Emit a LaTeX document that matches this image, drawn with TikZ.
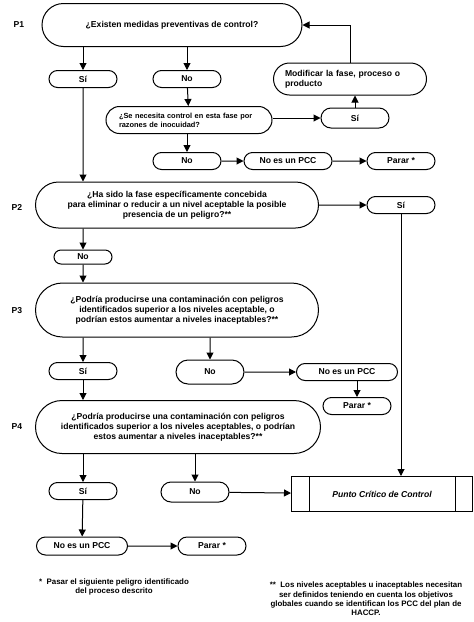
\documentclass[tikz,border=0pt]{standalone}
\usepackage{fontspec}
\setmainfont{Liberation Sans}
\usetikzlibrary{arrows.meta, shapes.misc, positioning}

\begin{document}
\begin{tikzpicture}[x=1pt,y=-1pt,>={Triangle[length=7pt,width=7pt]},line width=1pt,
        font=\fontsize{8.6}{10}\selectfont\bfseries,
        caja/.style={draw,rounded rectangle,minimum width=70,minimum height=17,inner sep=1pt},
        pregunta/.style={draw,rounded rectangle,inner sep=1pt,align=center},
        nota/.style={align=center,font=\fontsize{7.9}{9.4}\selectfont\bfseries}]
        \useasboundingbox (0,0) rectangle (474,622);

        \node (lp1) at (19,25) {P1};
        \node (lp2) at (17,207) {P2};
        \node (lp3) at (17,311) {P3};
        \node (lp4) at (17,427) {P4};

        \node[pregunta,minimum width=262,minimum height=43] (p1) at (172,25) {¿Existen medidas preventivas de control?};
        \node[caja] (si1) at (83,79) {Sí};
        \node[caja] (no1) at (187,79) {No};
        \node[pregunta,minimum width=155,minimum height=32,text width=130,align=left] (modif) at (350,79) {Modificar la fase, proceso o\\producto};
        \node[pregunta,minimum width=168,minimum height=27,text width=140,align=left,font=\fontsize{7.4}{8.8}\selectfont\bfseries] (necesita) at (189,120) {¿Se necesita control en esta fase por\\razones de inocuidad?};
        \node[caja,minimum height=20] (si2) at (355,118) {Sí};
        \node[caja] (no2) at (187,161) {No};
        \node[caja,minimum width=90] (nopcc1) at (288,161) {No es un PCC};
        \node[caja] (parar1) at (401,161) {Parar *};

        \node[pregunta,minimum width=285,minimum height=46] (p2) at (177,205) {¿Ha sido la fase específicamente concebida\\para eliminar o reducir a un nivel aceptable la posible\\presencia de un peligro?**};
        \node[caja] (si3) at (401,205) {Sí};
        \node[caja,minimum width=60,minimum height=14] (no3) at (83,257) {No};

        \node[pregunta,minimum width=285,minimum height=54] (p3) at (177,310) {¿Podría producirse una contaminación con peligros\\identificados superior a los niveles aceptable, o\\podrían estos aumentar a niveles inaceptables?**};
        \node[caja] (si4) at (83,371) {Sí};
        \node[caja,minimum height=24] (no4) at (210,372) {No};
        \node[caja,minimum width=103] (nopcc2) at (347,372) {No es un PCC};
        \node[caja] (parar2) at (357,406) {Parar *};

        \node[pregunta,minimum width=287,minimum height=53] (p4) at (178,427) {¿Podría producirse una contaminación con peligros\\identificados superior a los niveles aceptables, o podrían\\estos aumentar a niveles inaceptables?**};
        \node[caja] (si5) at (83,491) {Sí};
        \node[caja,minimum height=20] (no5) at (195,492) {No};
        \node[draw,rectangle,minimum width=181,minimum height=35,font=\fontsize{8.6}{10}\selectfont\bfseries\itshape] (pcc) at (382,494) {Punto Crítico de Control};
        \draw ([xshift=18]pcc.north west) -- ([xshift=18]pcc.south west)
              ([xshift=-18]pcc.north east) -- ([xshift=-18]pcc.south east);
        \node[caja,minimum width=93,minimum height=18] (nopcc3) at (82,546) {No es un PCC};
        \node[caja,minimum height=18] (parar3) at (212,546) {Parar *};

        \node[nota] (nota1) at (114,587) {* \ Pasar el siguiente peligro identificado\\del proceso descrito};
        \node[nota] (nota2) at (366,599) {** \ Los niveles aceptables u inaceptables necesitan\\ser definidos teniendo en cuenta los objetivos\\globales cuando se identifican los PCC del plan de\\HACCP.};

        \path[->] (p1.south -| si1) edge (si1)
                (p1.south -| no1) edge (no1)
                (no1) edge (necesita)
                (necesita.east |- si2) edge (si2)
                (si2.north) edge (modif.south -| si2.north)
                (necesita.south -| no2) edge (no2)
                (no2) edge (nopcc1)
                (nopcc1) edge (parar1)
                (si1) edge (si1 |- p2.north)
                (p2) edge (si3)
                (si3) edge (si3 |- pcc.north)
                (p2.south -| no3) edge (no3)
                (no3) edge (no3 |- p3.north)
                (p3.south -| si4) edge (si4)
                (p3.south -| no4) edge (no4)
                (no4) edge (nopcc2)
                (nopcc2.south -| parar2) edge (parar2)
                (si4) edge (si4 |- p4.north)
                (p4.south -| si5) edge (si5)
                (p4.south -| no5) edge (no5)
                (no5) edge (pcc)
                (si5) edge (nopcc3)
                (nopcc3) edge (parar3);
        \draw[->] (modif.north) |- (p1.east);
    \end{tikzpicture}
\end{document}
